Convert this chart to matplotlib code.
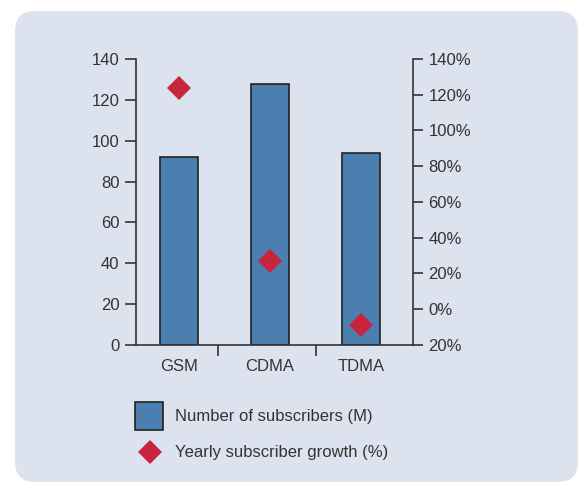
import matplotlib
matplotlib.use('Agg')
import matplotlib.pyplot as plt
from matplotlib.patches import FancyBboxPatch, Rectangle
from matplotlib.lines import Line2D
from matplotlib.transforms import IdentityTransform

categories = ['GSM', 'CDMA', 'TDMA']
subscribers = [92, 128, 94]          # millions
growth = [124, 27, -9]               # percent
left_ticks = [0, 20, 40, 60, 80, 100, 120, 140]
right_ticks = [-20, 0, 20, 40, 60, 80, 100, 120, 140]
right_labels = ['20%', '0%', '20%', '40%', '60%', '80%', '100%', '120%', '140%']
legend_labels = ['Number of subscribers (M)', 'Yearly subscriber growth (%)']

panel_color = '#dce3ef'
bar_color = '#4b7fb0'
diamond_color = '#c8233f'
ink = '#333333'

plt.rcParams['font.family'] = ['Liberation Sans', 'DejaVu Sans']
plt.rcParams['font.size'] = 12

W, H = 584, 483
fig = plt.figure(figsize=(W / 100, H / 100), dpi=100, facecolor='white')

# rounded background panel (pixel coordinates)
panel = FancyBboxPatch((35, 21), 523, 431, boxstyle='round,pad=20,rounding_size=20',
                       transform=IdentityTransform(), facecolor=panel_color,
                       edgecolor='none', zorder=-5)
fig.patches.append(panel)

ax = fig.add_axes([136 / W, 138 / H, 277 / W, 286 / H])
ax.set_facecolor('none')
x = range(len(categories))
ax.bar(x, subscribers, width=0.41, color=bar_color, edgecolor='#222222',
       linewidth=1.2, zorder=2)
ax.set_xlim(-0.47, 2.57)
ax.set_ylim(0, 140)
ax.set_yticks(left_ticks)
ax.set_xticks(list(x))
ax.set_xticklabels(categories)
ax.set_xticks([0.43, 1.5], minor=True)
ax.tick_params(axis='x', which='major', length=0, pad=10, colors=ink)
ax.tick_params(axis='x', which='minor', length=8, width=1.2, direction='out', color=ink)
ax.tick_params(axis='y', length=8, width=1.2, direction='out', pad=4, colors=ink)
for s in ['top', 'right']:
    ax.spines[s].set_visible(False)
for s in ['left', 'bottom']:
    ax.spines[s].set_color(ink)
    ax.spines[s].set_linewidth(1.2)

ax2 = ax.twinx()
ax2.set_ylim(-20, 140)
ax2.set_yticks(right_ticks)
ax2.set_yticklabels(right_labels)
ax2.plot(list(x), growth, linestyle='none', marker='D', markersize=12,
         color=diamond_color, markeredgewidth=0, zorder=3, clip_on=False)
ax2.tick_params(axis='y', length=7, width=1.2, direction='out', pad=4, colors=ink)
for s in ['top', 'left', 'bottom']:
    ax2.spines[s].set_visible(False)
ax2.spines['right'].set_color(ink)
ax2.spines['right'].set_linewidth(1.2)

# legend drawn by hand (pixel positions measured from the top)
fig.add_artist(Rectangle((135 / W, 1 - 430 / H), 28 / W, 28 / H, transform=fig.transFigure,
                         facecolor=bar_color, edgecolor='#222222', linewidth=1.2))
fig.add_artist(Line2D([150 / W], [1 - 452 / H], transform=fig.transFigure, linestyle='none',
                      marker='D', markersize=12, color=diamond_color, markeredgewidth=0))
fig.text(175 / W, 1 - 417 / H, legend_labels[0], va='center', ha='left', color=ink)
fig.text(175 / W, 1 - 452 / H, legend_labels[1], va='center', ha='left', color=ink)

fig.savefig('out.png', dpi=100, facecolor='white')
